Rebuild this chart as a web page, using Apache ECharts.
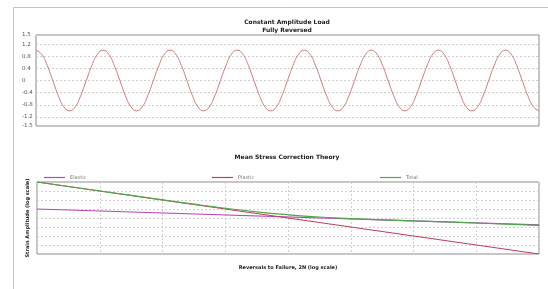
<!DOCTYPE html>
<html>
<head>
<meta charset="utf-8">
<title>Fatigue charts</title>
<script src="https://cdn.jsdelivr.net/npm/echarts@6/dist/echarts.min.js"></script>
<style>
  html, body { margin: 0; padding: 0; background: #fff; }
</style>
</head>
<body>
<div id="main" style="width:548px;height:289px;"></div>
<script>
// load history, fully reversed (amplitude, 12 samples per cycle)
var loadValues = [
  1, 0.87, 0.5, 0, -0.5, -0.87, -1, -0.87, -0.5, 0, 0.5, 0.87,
  1, 0.87, 0.5, 0, -0.5, -0.87, -1, -0.87, -0.5, 0, 0.5, 0.87,
  1, 0.87, 0.5, 0, -0.5, -0.87, -1, -0.87, -0.5, 0, 0.5, 0.87,
  1, 0.87, 0.5, 0, -0.5, -0.87, -1, -0.87, -0.5, 0, 0.5, 0.87,
  1, 0.87, 0.5, 0, -0.5, -0.87, -1, -0.87, -0.5, 0, 0.5, 0.87,
  1, 0.87, 0.5, 0, -0.5, -0.87, -1, -0.87, -0.5, 0, 0.5, 0.87,
  1, 0.87, 0.5, 0, -0.5, -0.87, -1, -0.87, -0.5, 0, 0.5, 0.87,
  1, 0.87, 0.5, 0, -0.5, -0.87, -1
];
var loadTicks = [-1.5, -1.2, -0.8, -0.4, 0, 0.4, 0.8, 1.2, 1.5];

// strain-life curves, [reversals, strain amplitude]
var elasticPts = [[1, 1], [1e8, 0.017]];
var plasticPts = [[1, 1000], [1e8, 1e-5]];
var totalPts = [
  [1, 1001], [10, 100.6], [100, 10.4], [316, 3.44], [1000, 1.22],
  [3162, 0.48], [1e4, 0.23], [31623, 0.13], [1e5, 0.087],
  [1e6, 0.047], [1e7, 0.028], [1e8, 0.015]
];

var loadIdx = loadValues.map(function (v, i) { return i; });

var chart = echarts.init(document.getElementById('main'));

var titleStyle = { fontSize: 6, fontWeight: 'bold', color: '#222', lineHeight: 8, fontFamily: 'DejaVu Sans' };
var legendText = { fontSize: 5, color: '#777', fontFamily: 'DejaVu Sans' };
var dash = { color: '#cfcfcf', type: [2, 2], width: 1 };

option = {
  animation: false,
  backgroundColor: '#fff',
  graphic: [{
    type: 'rect',
    shape: { x: 13.5, y: 7.5, width: 600, height: 400 },
    style: { fill: 'none', stroke: '#c4c4c4', lineWidth: 1 }
  }],
  title: [
    { text: 'Constant Amplitude Load\nFully Reversed', left: 282, top: 13, textAlign: 'center', textStyle: titleStyle },
    { text: 'Mean Stress Correction Theory', left: 282, top: 148, textAlign: 'center', textStyle: titleStyle }
  ],
  legend: [
    { data: ['Elastic'], left: 39, top: 170, icon: 'rect', itemWidth: 21, itemHeight: 1.2, itemGap: 3, textStyle: legendText },
    { data: ['Plastic'], left: 207, top: 170, icon: 'rect', itemWidth: 21, itemHeight: 1.2, itemGap: 3, textStyle: legendText },
    { data: ['Total'], left: 375, top: 170, icon: 'rect', itemWidth: 21, itemHeight: 1.2, itemGap: 3, textStyle: legendText }
  ],
  grid: [
    { left: 36, right: 9, top: 35, height: 91, show: true, borderColor: '#8a8a8a', borderWidth: 1 },
    { left: 37, right: 9, top: 182, height: 72, show: true, borderColor: '#8a8a8a', borderWidth: 1 }
  ],
  xAxis: [
    {
      gridIndex: 0, type: 'category', data: loadIdx, boundaryGap: false,
      axisLine: { show: false }, axisTick: { show: false }, axisLabel: { show: false }, splitLine: { show: false }
    },
    {
      gridIndex: 1, type: 'log', logBase: 10, min: 1, max: 1e8,
      name: 'Reversals to Failure, 2N (log scale)', nameLocation: 'middle', nameGap: 11,
      nameTextStyle: { fontSize: 5, fontWeight: 'bold', color: '#222', fontFamily: 'DejaVu Sans' },
      axisLine: { show: false }, axisTick: { show: false }, axisLabel: { show: false },
      splitLine: { show: true, lineStyle: dash }
    }
  ],
  yAxis: [
    {
      gridIndex: 0, type: 'value', min: -1.5, max: 1.5,
      axisLine: { show: false },
      axisTick: { show: false, customValues: loadTicks },
      axisLabel: { customValues: loadTicks, align: 'left', margin: 14, fontSize: 5.5, color: '#555', fontFamily: 'DejaVu Sans' },
      splitLine: { show: true, lineStyle: dash }
    },
    {
      gridIndex: 1, type: 'log', logBase: 10, min: 1e-5, max: 1e3,
      name: 'Strain Amplitude (log scale)', nameLocation: 'middle', nameGap: 7,
      nameTextStyle: { fontSize: 5, fontWeight: 'bold', color: '#222', fontFamily: 'DejaVu Sans' },
      axisLine: { show: false }, axisTick: { show: false }, axisLabel: { show: false },
      splitLine: { show: true, lineStyle: dash }
    }
  ],
  series: [
    {
      name: 'Load', type: 'line', xAxisIndex: 0, yAxisIndex: 0, data: loadValues,
      smooth: true, symbol: 'none', lineStyle: { color: '#cc7b7b', width: 1 }
    },
    {
      name: 'Elastic', type: 'line', xAxisIndex: 1, yAxisIndex: 1, data: elasticPts,
      symbol: 'none', color: '#b64ab8', lineStyle: { width: 1.2 }
    },
    {
      name: 'Plastic', type: 'line', xAxisIndex: 1, yAxisIndex: 1, data: plasticPts,
      symbol: 'none', color: '#c24058', lineStyle: { width: 1.2 }
    },
    {
      name: 'Total', type: 'line', xAxisIndex: 1, yAxisIndex: 1, data: totalPts,
      smooth: true, symbol: 'none', color: '#4aa84a', lineStyle: { width: 1.2 }
    }
  ]
};

chart.setOption(option);
</script>
</body>
</html>
